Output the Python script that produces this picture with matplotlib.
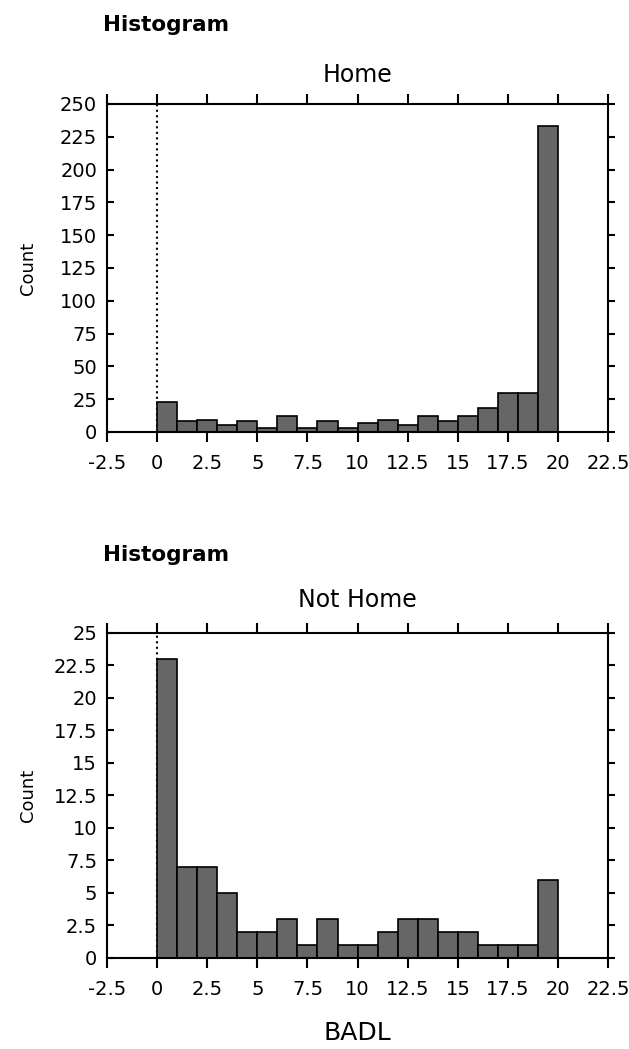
import numpy as np
import matplotlib.pyplot as plt

bin_edges = np.arange(0, 21, 1)
home_counts = [23, 8, 9, 5, 8, 3, 12, 3, 8, 3, 7, 9, 5, 12, 8, 12, 18, 30, 30, 233]
not_home_counts = [23, 7, 7, 5, 2, 2, 3, 1, 3, 1, 1, 2, 3, 3, 2, 2, 1, 1, 1, 6]
x_ticks = [-2.5, 0, 2.5, 5, 7.5, 10, 12.5, 15, 17.5, 20, 22.5]
x_labels = ['-2.5', '0', '2.5', '5', '7.5', '10', '12.5', '15', '17.5', '20', '22.5']
home_yticks = np.arange(0, 251, 25)
not_home_yticks = [0, 2.5, 5, 7.5, 10, 12.5, 15, 17.5, 20, 22.5, 25]
not_home_ylabels = ['0', '2.5', '5', '7.5', '10', '12.5', '15', '17.5', '20', '22.5', '25']

fig = plt.figure(figsize=(6.29, 10.49), dpi=100)


def panel(rect, counts, yticks, ylabels, ymax, title, hist_y, title_y):
    ax = fig.add_axes(rect)
    ax.bar(bin_edges[:-1], counts, width=1, align='edge',
           color='#666666', edgecolor='black', linewidth=1.2, zorder=2)
    ax.axvline(0, color='black', linestyle=':', linewidth=1.5, zorder=1)
    ax.set_xlim(-2.5, 22.5)
    ax.set_ylim(0, ymax)
    ax.set_xticks(x_ticks)
    ax.set_xticklabels(x_labels, fontsize=14)
    ax.set_yticks(yticks)
    ax.set_yticklabels(ylabels, fontsize=14)
    ax.tick_params(axis='x', direction='out', length=7, width=1.5, top=True, pad=9)
    ax.tick_params(axis='y', direction='in', length=5, width=1.5, right=True,
                   labelright=False, pad=7)
    # right-hand ticks point outward
    for t in ax.yaxis.get_major_ticks():
        t.tick2line.set_marker(1)
    for s in ax.spines.values():
        s.set_linewidth(1.5)
    ax.set_ylabel('Count', fontsize=13)
    ax.yaxis.set_label_coords(-0.14, 0.5)
    fig.text(0.163, hist_y, 'Histogram', fontsize=15.5, fontweight='bold')
    fig.text(rect[0] + rect[2] / 2, title_y, title, fontsize=17, ha='center')
    return ax


ax1 = panel([0.170, 0.5882, 0.797, 0.3127], home_counts, home_yticks,
            [str(v) for v in home_yticks], 250, 'Home', 0.970, 0.922)
ax2 = panel([0.170, 0.0868, 0.797, 0.3098], not_home_counts, not_home_yticks,
            not_home_ylabels, 25, 'Not Home', 0.465, 0.421)
ax2.set_xlabel('BADL', fontsize=18, labelpad=16)

plt.savefig('out.png', dpi=100)
